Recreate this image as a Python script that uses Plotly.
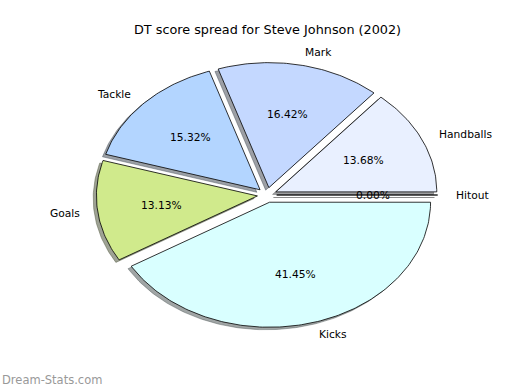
import numpy as np
import plotly.graph_objects as go

# ---- data ----
labels = ["Hitout", "Handballs", "Mark", "Tackle", "Goals", "Kicks"]
values = [0.00, 13.68, 16.42, 15.32, 13.13, 41.45]
colors = ["#ffffff", "#e9f0ff", "#c4d8ff", "#b3d5ff", "#d0ea8c", "#d9ffff"]
title = "DT score spread for Steve Johnson (2002)"
watermark = "Dream-Stats.com"

# ---- style ----
explode = 0.06
label_dist = 1.1
pct_dist = 0.6
shadow_off = (-0.02, -0.02)
FONT = "DejaVu Sans"
LABEL_SIZE = 10.7
TITLE_SIZE = 12.8

def hex_rgb(h):
    h = h.lstrip("#")
    return tuple(int(h[i:i + 2], 16) for i in (0, 2, 4))

fig = go.Figure()
total = sum(values)
fracs = [v / total for v in values]

wedges = []
theta0 = 0.0
for lab, fr, col in zip(labels, fracs, colors):
    t1 = theta0
    t2 = theta0 + fr * 360.0
    tm = np.deg2rad((t1 + t2) / 2)
    cx = explode * np.cos(tm)
    cy = explode * np.sin(tm)
    n = max(2, int(abs(t2 - t1) / 1.0) + 2)
    ang = np.deg2rad(np.linspace(t1, t2, n))
    xs = np.concatenate([[cx], cx + np.cos(ang), [cx]])
    ys = np.concatenate([[cy], cy + np.sin(ang), [cy]])
    wedges.append((lab, fr, col, xs, ys, cx, cy, tm))
    theta0 = t2

# shadows first
for lab, fr, col, xs, ys, cx, cy, tm in wedges:
    r, g, b = hex_rgb(col)
    sc = f"rgba({int(0.3*r)},{int(0.3*g)},{int(0.3*b)},0.5)"
    fig.add_trace(go.Scatter(x=xs + shadow_off[0], y=ys + shadow_off[1], mode="lines",
                             fill="toself", fillcolor=sc,
                             line=dict(color=sc, width=0.8),
                             hoverinfo="skip", showlegend=False))

for lab, fr, col, xs, ys, cx, cy, tm in wedges:
    fig.add_trace(go.Scatter(x=xs, y=ys, mode="lines", fill="toself", fillcolor=col,
                             line=dict(color="black", width=0.8),
                             name=lab, hoverinfo="name", showlegend=False))

annotations = []
for lab, fr, col, xs, ys, cx, cy, tm in wedges:
    xt = cx + label_dist * np.cos(tm)
    yt = cy + label_dist * np.sin(tm)
    annotations.append(dict(x=xt, y=yt, xref="x", yref="y", text=lab, showarrow=False,
                            xanchor="left" if xt > 0 else "right", yanchor="middle",
                            font=dict(family=FONT, size=LABEL_SIZE, color="black")))
    xp = cx + pct_dist * np.cos(tm)
    yp = cy + pct_dist * np.sin(tm)
    annotations.append(dict(x=xp, y=yp, xref="x", yref="y", text=f"{fr*100:.2f}%",
                            showarrow=False, xanchor="center", yanchor="middle",
                            font=dict(family=FONT, size=LABEL_SIZE, color="black")))

annotations.append(dict(x=267 / 520, y=1 - 30 / 390, xref="paper", yref="paper",
                        text=title, showarrow=False, xanchor="center", yanchor="middle",
                        font=dict(family=FONT, size=TITLE_SIZE, color="black")))
annotations.append(dict(x=0, y=1 / 390, xref="paper", yref="paper", text=watermark,
                        showarrow=False, xanchor="left", yanchor="bottom",
                        font=dict(family=FONT, size=11.5, color="#999999")))

RX, RY, CXP, CYP = 161.0, 125.0, 267.0, 195.0
fig.update_layout(
    width=520, height=390,
    margin=dict(l=0, r=0, t=0, b=0),
    paper_bgcolor="white", plot_bgcolor="white",
    xaxis=dict(range=[-CXP / RX, (520 - CXP) / RX], visible=False, fixedrange=True),
    yaxis=dict(range=[-(390 - CYP) / RY, CYP / RY], visible=False, fixedrange=True),
    annotations=annotations,
    showlegend=False,
)

fig.write_html("out.html", config={"displayModeBar": False},
               post_script="document.body.style.margin='0';document.body.style.overflow='hidden';")
